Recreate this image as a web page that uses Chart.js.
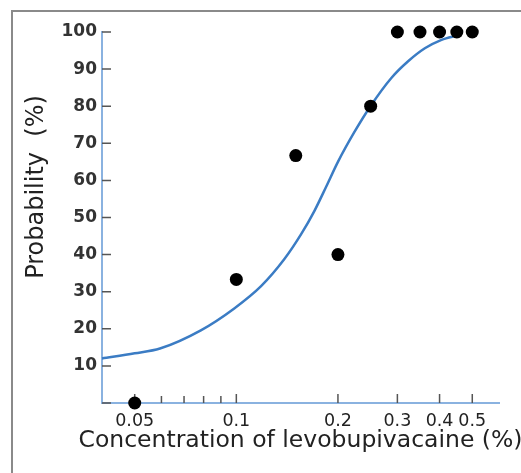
<!DOCTYPE html>
<html><head><meta charset="utf-8">
<script src="https://cdn.jsdelivr.net/npm/chart.js@4/dist/chart.umd.min.js"></script>
<style>
html,body{margin:0;padding:0;background:#fff;overflow:hidden;}
#wrap{position:relative;width:521px;height:473px;overflow:hidden;background:#fff;}
.fl{position:absolute;background:#8a8a8a;pointer-events:none;}
#ft{left:11px;top:10px;width:510px;height:2px;}
#fl{left:11px;top:10px;width:2px;height:463px;}
canvas{position:absolute;left:0;top:0;}
</style></head><body>
<div id="wrap"><canvas id="c" width="521" height="473"></canvas><div class="fl" id="ft"></div><div class="fl" id="fl"></div></div>
<script>
// Observed data
const concentrations = [0.05, 0.1, 0.15, 0.2, 0.25, 0.3, 0.35, 0.4, 0.45, 0.5];
const observedProbability = [0, 33.3, 66.7, 40, 80, 100, 100, 100, 100, 100];
// Fitted curve
const curveConcentrations = [0.04, 0.05, 0.0594, 0.0785, 0.0986, 0.1184, 0.1388, 0.1556, 0.1704, 0.185, 0.2, 0.2236, 0.2497, 0.2879, 0.3228, 0.3618, 0.4054, 0.444, 0.455];
const curveProbability = [12.0, 13.4, 14.7, 19.6, 25.5, 31.5, 38.8, 45.5, 51.8, 58.5, 65.0, 73.0, 80.0, 87.6, 92.1, 95.6, 97.9, 98.9, 99.1];
// Ticks
const xTickValues = [0.05, 0.06, 0.07, 0.08, 0.09, 0.1, 0.2, 0.3, 0.4, 0.5];
const xTickLabels = ['0.05', '', '', '', '', '0.1', '0.2', '0.3', '0.4', '0.5'];
const yTickValues = [0, 10, 20, 30, 40, 50, 60, 70, 80, 90, 100];
const yTickLabels = ['', '10', '20', '30', '40', '50', '60', '70', '80', '90', '100'];

const xTitle = 'Concentration of levobupivacaine (%)';
const yTitle = '        Probability  (%)';

Chart.defaults.font.family = "'DejaVu Sans', sans-serif";

const inwardTicks = {
  id: 'inwardTicks',
  beforeDatasetsDraw(chart) {
    const {ctx, chartArea, scales} = chart;
    const xs = scales.x, ys = scales.y;
    ctx.save();
    ctx.strokeStyle = '#555';
    ctx.lineWidth = 1.5;
    ctx.beginPath();
    ys.ticks.forEach(t => {
      const py = ys.getPixelForValue(t.value);
      ctx.moveTo(chartArea.left, py);
      ctx.lineTo(chartArea.left + 9, py);
    });
    xs.ticks.forEach(t => {
      const px = xs.getPixelForValue(t.value);
      const len = t.label ? 9 : 7;
      ctx.moveTo(px, chartArea.bottom);
      ctx.lineTo(px, chartArea.bottom - len);
    });
    ctx.stroke();
    ctx.restore();
  }
};

// x-axis title drawn without Chart.js's maxWidth squeeze (reference title is wider than the plot)
const xAxisTitle = {
  id: 'xAxisTitle',
  afterDraw(chart) {
    const {ctx, chartArea, scales} = chart;
    ctx.save();
    ctx.font = "23.5px 'DejaVu Sans', sans-serif";
    ctx.fillStyle = '#222';
    ctx.textAlign = 'center';
    ctx.textBaseline = 'middle';
    ctx.fillText(xTitle, (chartArea.left + chartArea.right) / 2, scales.x.bottom - 32);
    ctx.restore();
  }
};

new Chart(document.getElementById('c'), {
  type: 'scatter',
  data: {
    datasets: [
      {
        label: 'Observed',
        data: concentrations.map((c, i) => ({x: c, y: observedProbability[i]})),
        backgroundColor: '#000',
        borderColor: '#000',
        pointRadius: 6.5,
        pointBorderWidth: 0,
        showLine: false,
        clip: false
      },
      {
        label: 'Fitted',
        data: curveConcentrations.map((c, i) => ({x: c, y: curveProbability[i]})),
        showLine: true,
        borderColor: '#3b7cc4',
        borderWidth: 2.5,
        pointRadius: 0,
        cubicInterpolationMode: 'monotone',
        fill: false,
        clip: false
      }
    ]
  },
  options: {
    responsive: false,
    animation: false,
    devicePixelRatio: 1,
    layout: {padding: {left: 0, top: 32, right: 22, bottom: 0}},
    plugins: {legend: {display: false}, tooltip: {enabled: false}},
    scales: {
      x: {
        type: 'logarithmic',
        position: 'bottom',
        min: 0.04,
        max: 0.6,
        afterBuildTicks: s => { s.ticks = xTickValues.map(v => ({value: v})); },
        afterFit: s => { s.height = 70; },
        grid: {display: false, drawTicks: false, tickLength: 0},
        border: {display: true, color: '#8ab2e0', width: 2},
        ticks: {
          autoSkip: false, maxRotation: 0, minRotation: 0, padding: 8,
          color: '#222', font: {size: 17.5},
          callback: (v, i) => xTickLabels[i]
        },
        title: {display: false, text: xTitle}
      },
      y: {
        type: 'linear',
        position: 'left',
        min: 0,
        max: 100,
        afterBuildTicks: s => { s.ticks = yTickValues.map(v => ({value: v})); },
        afterFit: s => { s.width = 102; },
        grid: {display: false, drawTicks: false, tickLength: 0},
        border: {display: true, color: '#8ab2e0', width: 2},
        ticks: {
          padding: 5, color: '#333', font: {size: 17, weight: 'bold'},
          callback: (v, i) => yTickLabels[i]
        },
        title: {display: true, text: yTitle, color: '#222', font: {size: 24}, padding: {top: 22, bottom: 0}}
      }
    }
  },
  plugins: [inwardTicks, xAxisTitle]
});
</script>
</body></html>
